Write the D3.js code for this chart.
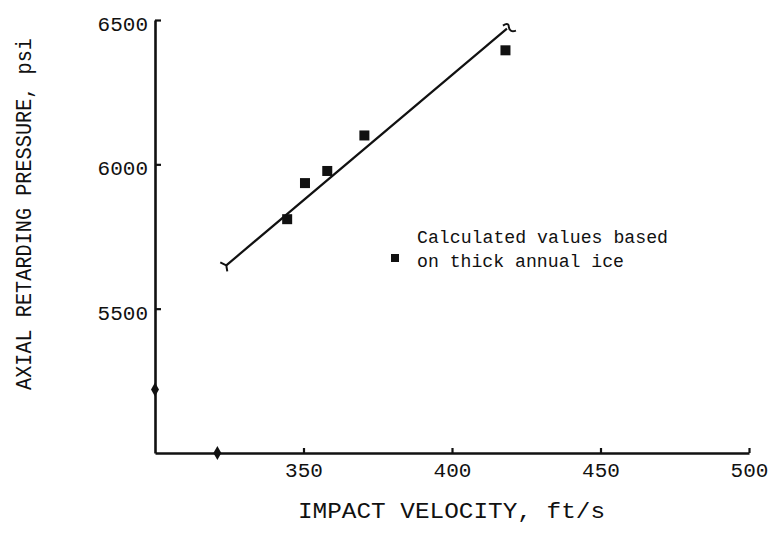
<!DOCTYPE html>
<html>
<head>
<meta charset="utf-8">
<script src="https://cdn.jsdelivr.net/npm/d3@7"></script>
<style>
  body { margin: 0; background: #fff; }
  text { font-family: "Courier New", "Liberation Mono", monospace; fill: #111; }
</style>
</head>
<body>
<div id="chart"></div>
<script>
// values
var velocity = [344.5, 350.5, 358, 370.5, 418];   // ft/s
var pressure = [5810, 5935, 5977, 6100, 6395];    // psi

// hand drawn fit line end points
var fitVelocity = [324, 418.5];
var fitPressure = [5650, 6470];

var xTicks = [350, 400, 450, 500];
var yTicks = [5500, 6000, 6500];

// small extra marks on the axes
var xMarks = [321];
var yMarks = [5220];

var width = 771, height = 538;

var svg = d3.select("#chart")
  .append("svg")
    .attr("width", width)
    .attr("height", height);

var x = d3.scaleLinear().domain([300, 500]).range([155, 749]);
var y = d3.scaleLinear().domain([5000, 6500]).range([453, 20]);

// x axis, ticks pointing up
var xAxis = svg.append("g")
  .attr("transform", "translate(0," + y(5000) + ")")
  .call(d3.axisBottom(x).tickValues(xTicks).tickFormat(d3.format("d"))
    .tickSizeInner(-5).tickSizeOuter(0).tickPadding(9));

// y axis, ticks pointing right
var yAxis = svg.append("g")
  .attr("transform", "translate(" + x(300) + ",0)")
  .call(d3.axisLeft(y).tickValues(yTicks).tickFormat(d3.format("d"))
    .tickSizeInner(-6).tickSizeOuter(0).tickPadding(7));

[xAxis, yAxis].forEach(function(g) {
  g.select(".domain").attr("stroke", "#111").attr("stroke-width", 2.6);
  g.selectAll(".tick line").attr("stroke", "#111").attr("stroke-width", 2.2);
  g.selectAll(".tick text")
    .style("font-family", "'Courier New', 'Liberation Mono', monospace")
    .style("font-size", "21px")
    .attr("fill", "#111");
});
yAxis.selectAll(".tick text").attr("dy", "0.5em");

// little diamond marks
svg.selectAll(".xmark")
  .data(xMarks)
  .enter()
  .append("path")
    .attr("d", d3.symbol().type(d3.symbolDiamond).size(55))
    .attr("transform", function(d) { return "translate(" + x(d) + "," + y(5000) + ")"; })
    .attr("fill", "#111");

svg.selectAll(".ymark")
  .data(yMarks)
  .enter()
  .append("path")
    .attr("d", d3.symbol().type(d3.symbolDiamond).size(55))
    .attr("transform", function(d) { return "translate(" + x(300) + "," + y(d) + ")"; })
    .attr("fill", "#111");

// fit line
var fit = fitVelocity.map(function(v, i) { return [x(v), y(fitPressure[i])]; });
svg.append("path")
  .attr("d", d3.line()(fit))
  .attr("stroke", "#111")
  .attr("stroke-width", 2.2)
  .attr("fill", "none");

// end decorations of the line
var p0 = fit[0], p1 = fit[1];
svg.append("path")
  .attr("d", "M" + (p0[0] - 6) + "," + (p0[1] - 3) + " L" + p0[0] + "," + p0[1] + " L" + (p0[0] + 1) + "," + (p0[1] + 6))
  .attr("stroke", "#111").attr("stroke-width", 2).attr("fill", "none");
svg.append("path")
  .attr("d", "M" + (p1[0] - 4) + "," + (p1[1] - 3) + " Q" + (p1[0] + 2) + "," + (p1[1] - 7) + " " + (p1[0] + 2) + "," + (p1[1] - 1) + " Q" + (p1[0] + 3) + "," + (p1[1] + 4) + " " + (p1[0] + 9) + "," + (p1[1] + 2))
  .attr("stroke", "#111").attr("stroke-width", 2).attr("fill", "none");

// data points
svg.selectAll(".pt")
  .data(velocity)
  .enter()
  .append("rect")
    .attr("x", function(d) { return x(d) - 5; })
    .attr("y", function(d, i) { return y(pressure[i]) - 5; })
    .attr("width", 10)
    .attr("height", 10)
    .attr("fill", "#111");

// legend
svg.append("rect")
  .attr("x", 391).attr("y", 254)
  .attr("width", 8).attr("height", 8)
  .attr("fill", "#111");
svg.append("text")
  .attr("x", 417).attr("y", 243)
  .attr("textLength", 251).attr("lengthAdjust", "spacingAndGlyphs")
  .style("font-size", "18px")
  .text("Calculated values based");
svg.append("text")
  .attr("x", 417).attr("y", 267)
  .attr("textLength", 207).attr("lengthAdjust", "spacingAndGlyphs")
  .style("font-size", "18px")
  .text("on thick annual ice");

// axis titles
svg.append("text")
  .attr("x", 298).attr("y", 518)
  .attr("textLength", 307).attr("lengthAdjust", "spacingAndGlyphs")
  .style("font-size", "22px")
  .text("IMPACT VELOCITY, ft/s");

svg.append("text")
  .attr("transform", "translate(31,390) rotate(-90)")
  .attr("textLength", 352).attr("lengthAdjust", "spacingAndGlyphs")
  .style("font-size", "22px")
  .text("AXIAL RETARDING PRESSURE, psi");
</script>
</body>
</html>
